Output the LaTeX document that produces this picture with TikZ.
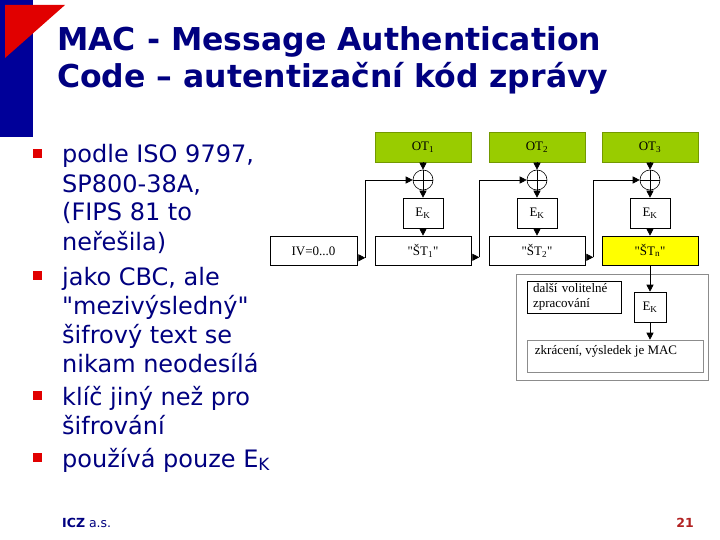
\documentclass[tikz,border=0pt]{standalone}
\usepackage{fontspec}
\setmainfont{DejaVu Sans}
\newfontfamily\timesfont{Liberation Serif}
\usetikzlibrary{arrows.meta}

\definecolor{barblue}{RGB}{0,0,153}
\definecolor{titleblue}{RGB}{0,0,128}
\definecolor{bulletred}{RGB}{225,0,0}
\definecolor{otgreen}{RGB}{153,204,0}
\definecolor{styellow}{RGB}{255,255,0}
\definecolor{pagered}{RGB}{178,34,34}

\newcommand{\diagfont}{\timesfont\fontsize{13}{15}\selectfont}
\newcommand{\bodyfont}{\fontsize{24}{29}\selectfont}
\newcommand{\headfont}{\bfseries\fontsize{31.5}{37}\selectfont}

\tikzset{
  blk/.style={draw, line width=0.6pt, inner sep=0pt, font=\diagfont},
  otblk/.style={blk, fill=otgreen, draw=otgreen!75!black,
                minimum width=96pt, minimum height=30pt},
  ekblk/.style={blk, minimum width=40pt, minimum height=30pt},
  stblk/.style={blk, minimum width=96pt, minimum height=29pt},
  xorc/.style={circle, draw, line width=0.6pt, minimum size=20pt, inner sep=0pt},
  arr/.style={line width=0.6pt, -{Triangle[length=7pt,width=7pt]}},
  grayblk/.style={draw=gray!90, line width=0.6pt, inner sep=0pt},
  item/.style={anchor=base west, inner sep=0pt, align=left,
               text=titleblue, font=\bodyfont},
}

\begin{document}
\begin{tikzpicture}[x=1pt, y=-1pt]
    % Plocha snimku
    \useasboundingbox[fill=white] (0,0) rectangle (720,540);

    % Levy pruh a cerveny roh
    \fill[barblue] (0,0) rectangle (33,137);
    \fill[bulletred] (5,5) -- (65,5) -- (5,58) -- cycle;

    % Nadpis
    \node[anchor=base west, inner sep=0pt, text=titleblue, font=\headfont]
        (head1) at (57,51) {MAC - Message Authentication};
    \node[anchor=base west, inner sep=0pt, text=titleblue, font=\headfont]
        (head2) at (57,88) {Code – autentizační kód zprávy};

    % Odrazky (kotva = uctari posledniho radku)
    \foreach \b in {163,285,405,467}
        \fill[bulletred] (33,\b-14) rectangle (42,\b-5);
    \node[item] (it1) at (62,250)
        {podle ISO 9797,\\SP800-38A,\\(FIPS 81 to\\neřešila)};
    \node[item] (it2) at (62,372)
        {jako CBC, ale\\\textquotedbl mezivýsledný\textquotedbl\\šifrový text se\\nikam neodesílá};
    \node[item] (it3) at (62,434)
        {klíč jiný než pro\\šifrování};
    \node[item] (it4) at (62,467)
        {používá pouze E\textsubscript{K}};

    % Retezec CBC-MAC
    \node[stblk, minimum width=87pt] (iv) at (313.5,251) {IV=0...0};
    \foreach \i/\x/\s/\c in {1/423/1/white, 2/537/2/white, 3/650/n/styellow} {
        \node[otblk] (ot\i) at (\x,147) {OT\textsubscript{\i}};
        \node[xorc] (x\i) at (\x,180) {};
        \draw[line width=0.6pt] (x\i.north) -- (x\i.south)
                                (x\i.west) -- (x\i.east);
        \node[ekblk] (e\i) at (\x,213) {E\textsubscript{K}};
        \node[stblk, fill=\c] (st\i) at (\x,250.5) {"ŠT\textsubscript{\s}"};
        \draw[arr] (ot\i) -- (x\i);
        \draw[arr] (x\i) -- (e\i);
        \draw[arr] (e\i) -- (st\i);
    }

    % Zpetne vazby do XOR
    \foreach \a/\b in {iv/x1, st1/x2, st2/x3} {
        \draw[arr] ([yshift=8pt]\a.south east) -- ++(8,0) coordinate (k\b);
        \draw[arr] (k\b) |- (\b.west);
    }

    % Dalsi zpracovani
    \node[grayblk, minimum width=192pt, minimum height=106pt] (post) at (612,327) {};
    \node[blk, minimum width=94pt, minimum height=32pt, inner xsep=6pt,
          text width=82pt, align=left] (opt) at (574,297)
        {další volitelné\\zpracování};
    \node[blk, minimum width=32pt, minimum height=30pt] (ek4) at (650,307)
        {E\textsubscript{K}};
    \node[grayblk, minimum width=176pt, minimum height=32pt] (mac) at (615,356) {};
    \node[anchor=west, inner sep=0pt, font=\diagfont] (mactxt)
        at ([xshift=8pt,yshift=-12pt]mac.north west) {zkrácení, výsledek je MAC};
    \draw[arr] (st3) -- (ek4);
    \draw[arr] (ek4.south) -- (ek4.south |- mac.north);

    % Paticka
    \node[anchor=base west, inner sep=0pt, text=titleblue, font=\fontsize{12.5}{14}\selectfont]
        (foot) at (62,527) {\textbf{ICZ} a.s.};
    \node[anchor=base east, inner sep=0pt, text=pagered, font=\bfseries\fontsize{12.5}{14}\selectfont]
        (page) at (694,527) {21};
\end{tikzpicture}
\end{document}
